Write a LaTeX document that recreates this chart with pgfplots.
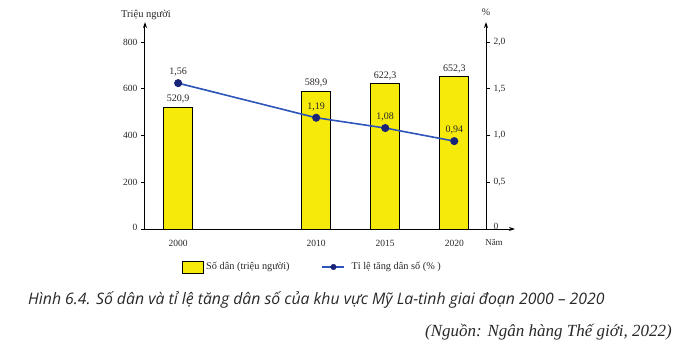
\documentclass[border=0pt]{standalone}
\usepackage{pgfplots}
\pgfplotsset{compat=1.18}
\usepackage{fontspec}
\setmainfont{Liberation Serif}
\newfontfamily\capfont{Open Sans}
\usetikzlibrary{arrows.meta}
\definecolor{baryellow}{RGB}{246,234,10}
\definecolor{lineblue}{RGB}{45,85,185}
\definecolor{marknavy}{RGB}{25,35,120}
\definecolor{txt}{RGB}{40,40,40}
\begin{document}
\begin{tikzpicture}[x=1pt,y=1pt]
\useasboundingbox (0,0) rectangle (689,354);
\begin{axis}[
  at={(145pt,125pt)}, anchor=south west,
  scale only axis, width=370pt, height=207pt,
  xmin=1997.6, xmax=2024.4, ymin=0, ymax=885.6,
  axis x line=bottom, axis y line=left,
  axis line style={line width=1pt, -{Stealth[length=6pt,width=4pt]}},
  xtick={2000,2010,2015,2020}, xticklabels={2000,2010,2015,2020},
  xtick style={draw=none},
  ytick={0,200,400,600,800}, yticklabels={\raisebox{4pt}{0},200,400,600,800},
  tick align=outside, ytick style={line width=0.8pt, black}, major tick length=4pt,
  tick label style={font=\fontsize{9.5}{11}\selectfont, text=txt},
  xticklabel style={yshift=-4pt},
  ybar, bar width=2.1,
  legend columns=2,
  legend style={draw=none, fill=none, at={(0.092,-0.1836)}, anchor=west,
    font=\fontsize{10.3}{12}\selectfont, text=txt,
    /tikz/every even column/.append style={column sep=30pt}},
  legend cell align=left,
]
\addplot[fill=baryellow, draw=black, line width=1pt,
  nodes near coords, point meta=explicit symbolic,
  nodes near coords style={font=\fontsize{10}{11}\selectfont, text=txt},
  legend image code/.code={\draw[fill=baryellow, draw=black, line width=1pt] (0pt,-6pt) rectangle (21pt,6pt);}
] coordinates {(2000,520.9) [520,9] (2010,589.9) [589,9] (2015,622.3) [622,3] (2020,652.3) [652,3]};
\addlegendentry{Số dân (triệu người)}
\addlegendimage{legend image code/.code={\draw[lineblue, line width=1.6pt] (0pt,0pt) -- (22pt,0pt); \fill[marknavy] (11pt,0pt) circle (2.8pt); \path (27pt,0pt);}}
\addlegendentry{Tỉ lệ tăng dân số (\% )}
\end{axis}
\begin{axis}[
  at={(145pt,125pt)}, anchor=south west,
  scale only axis, width=341pt, height=207pt,
  xmin=1997.6, xmax=2022.3, ymin=0, ymax=2.214,
  axis x line=none, axis y line=right,
  axis line style={line width=1pt, -{Stealth[length=6pt,width=4pt]}},
  ytick={0,0.5,1,1.5,2}, yticklabels={\raisebox{6pt}{0},{0,5},{1,0},{1,5},{2,0}},
  tick align=outside, ytick style={line width=0.8pt, black}, major tick length=4pt,
  tick label style={font=\fontsize{9.5}{11}\selectfont, text=txt},
]
\addplot[lineblue, line width=1.6pt, mark=*, mark size=3.2pt, mark options={fill=marknavy, draw=marknavy},
  nodes near coords, point meta=explicit symbolic,
  nodes near coords style={font=\fontsize{10}{11}\selectfont, text=txt, yshift=3pt}
] coordinates {(2000,1.56) [1,56] (2010,1.19) [1,19] (2015,1.08) [1,08] (2020,0.94) [0,94]};
\end{axis}
\node[text=txt, font=\fontsize{10.5}{12}\selectfont] at (146,339) {Triệu người};
\node[text=txt, font=\fontsize{10}{11}\selectfont] at (486,342) {\%};
\node[text=txt, font=\fontsize{9}{11}\selectfont] at (494,112) {Năm};
\node[anchor=west, text=txt, inner sep=0pt] at (28,54) {\capfont\itshape\fontsize{15.8}{18}\selectfont Hình 6.4. Số dân và tỉ lệ tăng dân số của khu vực Mỹ La-tinh giai đoạn 2000 – 2020};
\node[anchor=east, text=txt, inner sep=0pt] at (672,22) {\itshape\fontsize{17}{19}\selectfont (Nguồn: Ngân hàng Thế giới, 2022)};
\end{tikzpicture}
\end{document}
